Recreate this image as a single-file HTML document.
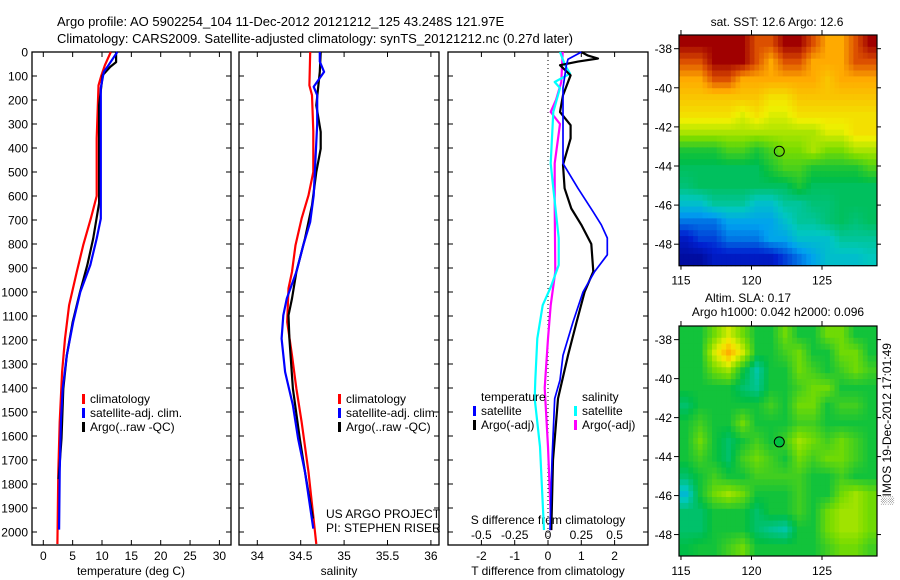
<!DOCTYPE html>
<html><head><meta charset="utf-8"><style>
html,body{margin:0;padding:0;background:#fff;width:900px;height:580px;overflow:hidden}
svg text{font-family:"Liberation Sans",sans-serif;fill:#000}
</style></head><body>
<svg id="fig" width="900" height="580" viewBox="0 0 900 580" xmlns="http://www.w3.org/2000/svg">
<text x="57" y="26" font-size="13">Argo profile: AO 5902254_104 11-Dec-2012 20121212_125 43.248S 121.97E</text>
<text x="57" y="43" font-size="13">Climatology: CARS2009. Satellite-adjusted climatology: synTS_20121212.nc (0.27d later)</text>
<g id="g"></g>
</svg>
<script>
// ---- profile data (depth in dbar) ----
const tRedD=[0,55,97,139,360,600,694,805,916,1055,1194,1333,1541,1750,2050];
const tRedV=[11.5,10.5,9.9,9.4,9.1,9.1,8.1,6.8,5.7,4.4,3.7,3.2,2.8,2.55,2.4];
const tBluD=[0,55,83,150,360,694,777,888,1000,1125,1264,1403,1541,1750,1990];
const tBluV=[12.6,11.1,10.3,9.8,9.8,9.8,9.1,8.0,6.3,5.1,4.0,3.3,3.0,2.8,2.7];
const tBlkD=[0,42,62,97,222,630,777,888,1000,1125,1264,1403,1610,1780];
const tBlkV=[12.4,12.4,11.4,10.1,9.5,9.5,8.5,7.5,6.25,5.0,4.0,3.4,3.1,2.6];
const sRedD=[0,139,180,330,500,597,694,805,916,985,1125,1264,1403,1541,1750,2050];
const sRedV=[34.61,34.60,34.63,34.645,34.645,34.59,34.51,34.44,34.40,34.36,34.345,34.40,34.45,34.51,34.59,34.68];
const sBluD=[0,40,83,145,180,300,597,708,805,916,1027,1097,1194,1333,1472,1611,1750,1986];
const sBluV=[34.72,34.72,34.77,34.65,34.69,34.69,34.65,34.61,34.53,34.45,34.34,34.30,34.28,34.32,34.41,34.47,34.55,34.645];
const sBlkD=[0,83,222,333,403,500,639,777,916,1027,1097,1194,1403,1611,1750,1944];
const sBlkV=[34.73,34.72,34.68,34.73,34.73,34.68,34.63,34.55,34.45,34.40,34.36,34.37,34.41,34.49,34.55,34.64];
// differences
const dTSatD=[0,8,30,57,150,300,464,568,665,720,775,845,915,1000,1125,1264,1367,1444,1700,1992];
const dTSatV=[1.0,0.9,0.6,0.55,0.45,0.45,0.45,0.9,1.35,1.6,1.78,1.78,1.4,1.05,0.75,0.45,0.36,0.2,0.12,0.06];
const dTArgD=[0,15,27,40,55,97,180,250,305,360,470,568,652,720,800,915,1000,1125,1264,1444,1700,1992];
const dTArgV=[1.0,1.2,1.5,0.9,0.36,0.68,0.45,0.36,0.68,0.68,0.45,0.5,0.7,1.0,1.3,1.36,1.1,0.86,0.6,0.3,0.15,0.1];
const dSSatD=[0,57,90,125,150,250,464,568,775,888,980,1055,1194,1367,1444,1645,1992];
const dSSatV=[0.09,0.13,0.165,0.05,0.09,0.04,0.02,0.04,0.08,0.08,0.02,-0.04,-0.08,-0.095,-0.1,-0.06,-0.03];
const dSArgD=[0,125,200,250,300,464,636,915,1055,1194,1400,1645,1992];
const dSArgV=[0.11,0.1,0.06,0.02,0.09,0.05,0.05,0.055,0.02,0.0,-0.025,0.0,0.025];
// ---- map grids (colormap index 0..10) ----
const sstGrid=[
[10,10,10,10,10,9,9,10,10,9,8,8,9,10],
[9,9,10,10,10,9,8,9,9,8,8,8,9,9],
[8,8,9,9,8,8,8,8,8,8,7.5,8,8,8],
[7.5,7.5,7.5,7.5,7.5,7.5,7,7,7.5,7.5,7.5,7.5,7.5,7.5],
[7,7,7,7,6.5,7,6.5,6.5,7,7,7,7,7,7],
[6,6,6,6,6,6,6,6,6,6,6.5,6.5,7,7],
[4.5,4.5,4.5,5,5,4.5,5,5.5,5.5,6,5.5,5.5,6,6],
[4,4,4,4,4,4,4.5,5,5,4.5,4.5,4.5,4.5,5],
[3.8,4,4,4,4,4,4,4,4.5,4,4,4,4,4],
[3,3,3.5,3.5,3.5,3,3,3.5,3.5,3.8,3.8,4,4,4],
[2,2,2,2.5,2.5,2.5,2.5,3,3.5,3.5,3.8,4,3.8,4],
[1,1.5,1.5,2,2,2,2.5,2.5,3,3,3,3.5,3.5,3.5],
[0.5,0.5,1,1,1,1,1,1.5,2,2.5,3,3,3,3.2]];
const slaGrid=[
[5,5,6,7,6,5,5,6,5,5,6,6,5,5],
[5,5,7,8.5,7,5,5,5.5,6,5,5,6,6,5],
[5,5,6,6.5,5,4,5,5,6,5.5,5,5.5,6,5.5],
[5,5,5,5,4.5,4.2,5,5,5.5,6,6,5,5,5],
[4.5,5,5,5,5,5,5.5,5,6,6,5,5.5,5.5,5],
[5,5.5,5,5,6,5,5,5,5.5,5.5,5,5,5,5],
[5,6,5,4.5,5,5.5,5,5.5,6.5,6,5.5,6,5.5,5],
[5,5.5,5,4.5,5.5,6,5.5,5,6,5.5,6,6,5.5,5],
[4.5,5,5.5,5,5,5.5,5.5,5.5,5.5,5,5,5.5,5,5],
[3.5,5,6,6.5,6,5,5,5,5.5,5,5,6,6.5,6],
[4.5,4.5,5,5,5,4.5,5,5,5.5,5,6,6.5,6.5,6],
[4.5,4.5,5,5,5,4.5,4.2,4,5,5,6,6.5,6.5,6],
[4.8,5,5,5.5,6,5,5,5,5,5,5.5,6,6,5.5]];
const depthTicks=[0,100,200,300,400,500,600,700,800,900,1000,1100,1200,1300,1400,1500,1600,1700,1800,1900,2000];
const tTicks=[0,5,10,15,20,25,30];
const sTicks=[34,34.5,35,35.5,36];
const dTTicks=[-2,-1,0,1,2];
const dSTicks=[-0.5,-0.25,0,0.25,0.5];
const dSTickLabels=["-0.5","-0.25","0","0.25","0.5"];
const latTicks=[-38,-40,-42,-44,-46,-48];
const lonTicks=[115,120,125];

const NS="http://www.w3.org/2000/svg";
const G=document.getElementById('g');
function mk(tag,at,parent){const e=document.createElementNS(NS,tag);for(const k in at)e.setAttribute(k,at[k]);(parent||G).appendChild(e);return e;}
function txt(x,y,s,size,anchor,parent){const t=mk('text',{x:x,y:y,'font-size':size||12,'text-anchor':anchor||'start'},parent);t.textContent=s;return t;}
const yD=d=>52+d*0.24;
const xT=v=>43.3+v*5.87;
const xS=v=>257.3+(v-34)*86.8;
const xDT=v=>548+v*33.3;
const xDS=v=>548+v*133.2;
const panels=[{l:32,r:231,name:'temperature-panel'},{l:239,r:439,name:'salinity-panel'},{l:448,r:648,name:'difference-panel'}];
const TOP=52,BOT=545;
panels.forEach((p,i)=>{
  const b=mk('rect',{x:p.l,y:TOP,width:p.r-p.l,height:BOT-TOP,fill:'none',stroke:'#000','stroke-width':1.3});
  
  
  depthTicks.forEach(d=>{
    mk('line',{x1:p.l,x2:p.l+5,y1:yD(d),y2:yD(d),stroke:'#000'});
    mk('line',{x1:p.r-5,x2:p.r,y1:yD(d),y2:yD(d),stroke:'#000'});
  });
});
depthTicks.forEach(d=>{const t=txt(28,yD(d)+4.5,String(d),12,'end');
  
  });
function xticks(arr,fx,labels,ly){arr.forEach((v,i)=>{const x=fx(v);
  mk('line',{x1:x,x2:x,y1:TOP,y2:TOP+5,stroke:'#000'});
  mk('line',{x1:x,x2:x,y1:BOT-5,y2:BOT,stroke:'#000'});
  const t=txt(x,ly,labels?labels[i]:String(v),12,'middle');
  
  });}
xticks(tTicks,xT,null,560);
xticks(sTicks,xS,null,560);
xticks(dTTicks,xDT,null,560);
dSTicks.forEach((v,i)=>{const t=txt(xDS(v),539,dSTickLabels[i],12,'middle');
  
  });
let t;
t=txt(131,575,'temperature (deg C)',12,'middle');
t=txt(339,575,'salinity',12,'middle');
t=txt(548,575,'T difference from climatology',12,'middle');
t=txt(548,524,'S difference from climatology',12,'middle');
const zl=mk('line',{x1:xDT(0),x2:xDT(0),y1:TOP,y2:BOT,stroke:'#000','stroke-dasharray':'1,3'});

function line(D,V,fx,color,w,name){
  const pts=D.map((d,i)=>fx(V[i]).toFixed(1)+','+yD(d).toFixed(1)).join(' ');
  const pl=mk('polyline',{points:pts,fill:'none',stroke:color,'stroke-width':w,'stroke-linejoin':'round'});
  
  
}
line(tRedD,tRedV,xT,'#f00',2.2,'temp-climatology-line');
line(tBlkD,tBlkV,xT,'#000',2.2,'temp-argo-line');
line(tBluD,tBluV,xT,'#00f',2.2,'temp-satellite-line');
line(sRedD,sRedV,xS,'#f00',2.2,'sal-climatology-line');
line(sBlkD,sBlkV,xS,'#000',2.2,'sal-argo-line');
line(sBluD,sBluV,xS,'#00f',2.2,'sal-satellite-line');
line(dSArgD,dSArgV,xDS,'#f0f',2.2,'s-diff-argo-line');
line(dSSatD,dSSatV,xDS,'#0ff',2.2,'s-diff-satellite-line');
line(dTArgD,dTArgV,xDT,'#000',2.2,'t-diff-argo-line');
line(dTSatD,dTSatV,xDT,'#00f',1.7,'t-diff-satellite-line');
function legend(x,y,color,label,name){
  const g=mk('g',{});
  
  
  mk('rect',{x:x,y:y-9,width:3,height:10,fill:color},g);
  txt(x+8,y,label,12,'start',g);
}
[82,338].forEach(x=>{
  legend(x,403,'#f00','climatology','legend-climatology');
  legend(x,417,'#00f','satellite-adj. clim.','legend-satellite-adj');
  legend(x,431,'#000','Argo(..raw -QC)','legend-argo');
});
t=txt(481,401,'temperature',12);
t=txt(582,401,'salinity',12);
legend(473,415,'#00f','satellite','legend-t-satellite');
legend(473,429,'#000','Argo(-adj)','legend-t-argo');
legend(574,415,'#0ff','satellite','legend-s-satellite');
legend(574,429,'#f0f','Argo(-adj)','legend-s-argo');
t=txt(326,518,'US ARGO PROJECT',12);
t=txt(326,532,'PI: STEPHEN RISER',12);
// ---- maps ----
const stops=[[0,[0,0,127]],[0.12,[0,32,208]],[0.24,[0,160,240]],[0.32,[0,200,190]],[0.42,[0,190,70]],[0.55,[120,220,0]],[0.67,[240,240,0]],[0.8,[255,170,0]],[0.9,[220,80,0]],[1,[160,0,0]]];
function cmap(v){v=Math.max(0,Math.min(1,v/10));for(let i=1;i<stops.length;i++){if(v<=stops[i][0]){const a=stops[i-1],b=stops[i],f=(v-a[0])/(b[0]-a[0]);const c=a[1].map((x,k)=>Math.round(x+(b[1][k]-x)*f));return 'rgb('+c.join(',')+')';}}return 'rgb(160,0,0)';}
const L=679,R=877,lon0=114.86,lon1=128.9,lat0=-37.3,lat1=-49.1;
function sample(grid,fr,fc){
  const rows=grid.length,cols=grid[0].length;
  fr=Math.max(0,Math.min(rows-1,fr));fc=Math.max(0,Math.min(cols-1,fc));
  const r0=Math.floor(fr),c0=Math.floor(fc),r1=Math.min(rows-1,r0+1),c1=Math.min(cols-1,c0+1),a=fr-r0,b=fc-c0;
  return grid[r0][c0]*(1-a)*(1-b)+grid[r0][c1]*(1-a)*b+grid[r1][c0]*a*(1-b)+grid[r1][c1]*a*b;
}
function drawMap(grid,top,bot,name,dotFill,offset){
  const g=mk('g',{});
  
  
  const rows=grid.length,cols=grid[0].length,S=3;
  const nr=rows*S,nc=cols*S,cw=(R-L)/nc,ch=(bot-top)/nr;
  for(let r=0;r<nr;r++)for(let c=0;c<nc;c++){
    const v=sample(grid,(r+0.5)/S-0.5,(c+0.5)/S-0.5)+offset;
    mk('rect',{x:(L+c*cw).toFixed(2),y:(top+r*ch).toFixed(2),width:(cw+0.5).toFixed(2),height:(ch+0.5).toFixed(2),fill:cmap(v)},g);
  }
  mk('rect',{x:L,y:top,width:R-L,height:bot-top,fill:'none',stroke:'#000','stroke-width':1.2},g);
  const fx=lo=>L+(lo-lon0)/(lon1-lon0)*(R-L);
  const fy=la=>top+(la-lat0)/(lat1-lat0)*(bot-top);
  latTicks.forEach(la=>{const y=fy(la);
    mk('line',{x1:L-5,x2:L,y1:y,y2:y,stroke:'#000'},g);
    mk('line',{x1:R,x2:R+4,y1:y,y2:y,stroke:'#000'},g);
    txt(L-7,y+4.5,String(la),12,'end',g);});
  lonTicks.forEach(lo=>{const x=fx(lo);
    mk('line',{x1:x,x2:x,y1:top-5,y2:top,stroke:'#000'},g);
    mk('line',{x1:x,x2:x,y1:bot,y2:bot+4,stroke:'#000'},g);
    txt(x,bot+19,String(lo),12,'middle',g);});
  mk('circle',{cx:fx(121.97),cy:fy(-43.248),r:5,fill:dotFill,stroke:'#000','stroke-width':1},g);
}
drawMap(sstGrid,35,265.7,'sst-map','none',0);
drawMap(slaGrid,326,556,'sla-map','rgb(0,192,64)',-0.6);
t=txt(777,26,'sat. SST: 12.6 Argo: 12.6',12,'middle');
t=txt(748,302,'Altim. SLA: 0.17',12,'middle');
t=txt(778,316,'Argo h1000: 0.042 h2000: 0.096',12,'middle');
t=txt(0,0,'\u2591IMOS 19-Dec-2012 17:01:49',12,'middle');
t.setAttribute('transform','translate(891,424) rotate(-90)');

</script>
</body></html>
